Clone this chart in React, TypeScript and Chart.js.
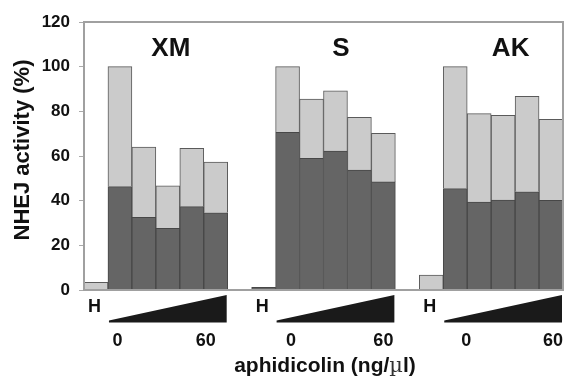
import React, { useEffect, useRef } from "react";
import { Chart, registerables } from "chart.js";

Chart.register(...registerables);

// ---- data ----
const categories = [
  "H", "XM1", "XM2", "XM3", "XM4", "XM5", "",
  "H", "S1", "S2", "S3", "S4", "S5", "",
  "H", "AK1", "AK2", "AK3", "AK4", "AK5",
];
// dark (lower) part of each bar
const darkValues: (number | null)[] = [
  null, 46.3, 32.5, 27.6, 37.3, 34.6, null,
  1.2, 70.6, 59.0, 62.2, 53.7, 48.4, null,
  null, 45.4, 39.4, 40.3, 44.0, 40.2,
];
// total height of each bar
const totalValues: (number | null)[] = [
  3.4, 100, 64.0, 46.6, 63.4, 57.3, null,
  1.2, 100, 85.5, 89.2, 77.3, 70.1, null,
  6.7, 100, 79.0, 78.2, 86.7, 76.4,
];
const groupNames = ["XM", "S", "AK"];
const hIndices = [0, 7, 14];
const firstDoseIndices = [1, 8, 15];
const lastDoseIndices = [5, 12, 19];
const doseLow = "0";
const doseHigh = "60";
const yTicks = [0, 20, 40, 60, 80, 100, 120];
const yTitle = "NHEJ activity (%)";
const xTitleParts = ["aphidicolin (ng/", "\u00b5", "l)"];

const lightValues = totalValues.map((t, i) => {
  if (t === null) return null;
  const d = darkValues[i] ?? 0;
  const v = t - d;
  return v > 0.05 ? v : null;
});

const FONT = '"Liberation Sans", Arial, Helvetica, sans-serif';

const annotations = {
  id: "annotations",
  afterDraw(chart: any) {
    const ctx = chart.ctx as CanvasRenderingContext2D;
    const area = chart.chartArea;
    const x = chart.scales.x;
    const cw = (area.right - area.left) / categories.length;
    ctx.save();

    // frame
    ctx.strokeStyle = "#a0a0a0";
    ctx.lineWidth = 2;
    ctx.strokeRect(area.left, area.top, area.right - area.left, area.bottom - area.top);

    // group titles
    const titleDx = [3, 5.5, 7.5];
    const titleIdx = [3, 10, 17];
    ctx.fillStyle = "#111";
    ctx.font = `bold 26px ${FONT}`;
    ctx.textAlign = "center";
    ctx.textBaseline = "alphabetic";
    groupNames.forEach((g, i) => {
      ctx.fillText(g, x.getPixelForValue(titleIdx[i]) + titleDx[i], 56);
    });

    // H labels
    ctx.font = `bold 18px ${FONT}`;
    hIndices.forEach((idx) => {
      ctx.fillText("H", x.getPixelForValue(idx) - 1.5, area.bottom + 22);
    });

    // wedges
    ctx.fillStyle = "#1a1a1a";
    firstDoseIndices.forEach((fi, i) => {
      const x0 = x.getPixelForValue(fi) - cw / 2 + 1;
      const x1 = x.getPixelForValue(lastDoseIndices[i]) + cw / 2 - 1;
      const top = area.bottom + 5;
      const bot = area.bottom + 32.5;
      ctx.beginPath();
      ctx.moveTo(x0, bot);
      ctx.lineTo(x0, bot - 2);
      ctx.lineTo(x1, top);
      ctx.lineTo(x1, bot);
      ctx.closePath();
      ctx.fill();
    });

    // dose labels
    const zeroDx = [-2.5, 3.5, 11];
    const sixtyDx = [-10, 0, 2];
    ctx.fillStyle = "#111";
    ctx.font = `bold 18px ${FONT}`;
    firstDoseIndices.forEach((fi, i) => {
      ctx.fillText(doseLow, x.getPixelForValue(fi) + zeroDx[i], area.bottom + 55.5);
      ctx.fillText(doseHigh, x.getPixelForValue(lastDoseIndices[i]) + sixtyDx[i], area.bottom + 55.5);
    });

    // x title with thin mu
    const boldF = `bold 21px ${FONT}`;
    const thinF = `21px "DejaVu Serif", serif`;
    ctx.font = boldF;
    const w0 = ctx.measureText(xTitleParts[0]).width;
    const w2 = ctx.measureText(xTitleParts[2]).width;
    ctx.font = thinF;
    const w1 = ctx.measureText(xTitleParts[1]).width;
    const total = w0 + w1 + w2;
    let cx = 325 - total / 2;
    ctx.textAlign = "left";
    ctx.font = boldF;
    ctx.fillText(xTitleParts[0], cx, 372);
    cx += w0;
    ctx.font = thinF;
    ctx.fillStyle = "#333";
    ctx.fillText(xTitleParts[1], cx, 372);
    cx += w1;
    ctx.fillStyle = "#111";
    ctx.font = boldF;
    ctx.fillText(xTitleParts[2], cx, 372);

    // y title
    ctx.save();
    ctx.translate(22.5, 150);
    ctx.rotate(-Math.PI / 2);
    ctx.textAlign = "center";
    ctx.textBaseline = "middle";
    ctx.font = `bold 22px ${FONT}`;
    ctx.fillText(yTitle, 0, 0);
    ctx.restore();

    ctx.restore();
  },
};

export default function App() {
  const ref = useRef<HTMLCanvasElement | null>(null);
  useEffect(() => {
    if (!ref.current) return;
    const chart = new Chart(ref.current, {
      type: "bar",
      data: {
        labels: categories,
        datasets: [
          {
            label: "dark",
            data: darkValues,
            backgroundColor: "#656565",
            borderColor: "#474747",
            borderWidth: 1,
            barPercentage: 1,
            categoryPercentage: 1,
          },
          {
            label: "light",
            data: lightValues,
            backgroundColor: "#cbcbcb",
            borderColor: "#5a5a5a",
            borderWidth: 1,
            barPercentage: 1,
            categoryPercentage: 1,
          },
        ],
      },
      options: {
        responsive: false,
        animation: false,
        layout: { padding: { left: 0, top: 22, right: 4, bottom: 86 } },
        plugins: { legend: { display: false }, tooltip: { enabled: false } },
        scales: {
          x: { stacked: true, display: false },
          y: {
            stacked: true,
            min: 0,
            max: 120,
            afterBuildTicks: (s: any) => {
              s.ticks = yTicks.map((v) => ({ value: v }));
            },
            afterFit: (s: any) => {
              s.width = 84;
            },
            grid: {
              drawOnChartArea: false,
              drawTicks: true,
              tickLength: 5,
              color: "#aaa",
            },
            border: { display: false },
            ticks: {
              padding: 9,
              color: "#111",
              font: { family: FONT, size: 17, weight: "bold" },
            },
          },
        },
      },
      plugins: [annotations],
    });
    return () => chart.destroy();
  }, []);
  return (
    <div style={{ position: "fixed", left: 0, top: 0, width: 567, height: 376, background: "#fff" }}>
      <canvas ref={ref} width={567} height={376} style={{ display: "block" }} />
    </div>
  );
}
